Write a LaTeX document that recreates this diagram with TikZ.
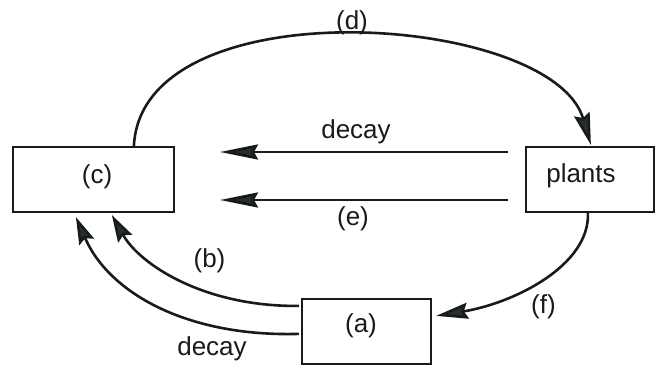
\documentclass[tikz,border=0pt]{standalone}
\usepackage{fontspec}
\setmainfont{Liberation Sans}
\usetikzlibrary{arrows.meta,calc}
\definecolor{ink}{RGB}{25,27,27}
\definecolor{headink}{RGB}{38,48,46}
\begin{document}
\begin{tikzpicture}[x=1pt,y=1pt,
  box/.style={draw=ink, line width=2.2pt, inner sep=0pt, minimum height=65pt, minimum width=#1},
  lbl/.style={font=\fontsize{26}{31}\selectfont, inner sep=0pt, text=ink},
  harr/.style={draw=ink, line width=2.7pt, -{Stealth[length=38pt,width=15pt,inset=4pt,fill=headink]}},
  arr/.style={draw=ink, line width=2.6pt, -{Stealth[length=32pt,width=16pt,inset=4pt,fill=headink]}},
  sarr/.style={draw=ink, line width=2.6pt, -{Stealth[length=27pt,width=16pt,inset=4pt,fill=headink]}}]
\useasboundingbox (0,0) rectangle (657,365);
\fill[white] (0,0) rectangle (657,365);
% boxes
\node[box=161pt] (cbox) at (93.5,185.5) {};
\node[box=128pt] (pbox) at (590,185.5) {};
\node[box=129pt] (abox) at (366.5,33.5) {};
% box texts
\node[lbl] (ctext) at (97,188) {(c)};
\node[lbl] (ptext) at (581,189) {plants};
\node[lbl] (atext) at (361,39) {(a)};
% free ends of straight arrows
\coordinate (d1s) at (508,213);
\coordinate (d1e) at (220,213);
\coordinate (e1s) at (508,165);
\coordinate (e1e) at (220,165);
\draw[harr] (d1s) -- (d1e);
\draw[harr] (e1s) -- (e1e);
% arcs
\draw[arr] ($(cbox.north west)+(122,0)$) .. controls (142,380) and (552,352) .. ($(pbox.north west)+(66,1)$);
\draw[arr] ($(pbox.south west)+(63,0)$) .. controls (590,100) and (515,62) .. ($(abox.north east)+(4,-18)$);
\draw[sarr] ($(abox.north west)+(-2,-8)$) .. controls (205,58) and (140,100) .. ($(cbox.south west)+(100,-2)$);
\draw[sarr] ($(abox.north west)+(-2,-36)$) .. controls (190,28) and (110,70) .. ($(cbox.south west)+(64,-4)$);
% labels
\node[lbl] (ldecay1) at (356,233.5) {decay};
\node[lbl] (le) at (353,146) {(e)};
\node[lbl] (ld) at (352,342) {(d)};
\node[lbl] (lb) at (209.5,104) {(b)};
\node[lbl] (lf) at (543.5,58.5) {(f)};
\node[lbl] (ldecay2) at (212,16.5) {decay};
\end{tikzpicture}
\end{document}
